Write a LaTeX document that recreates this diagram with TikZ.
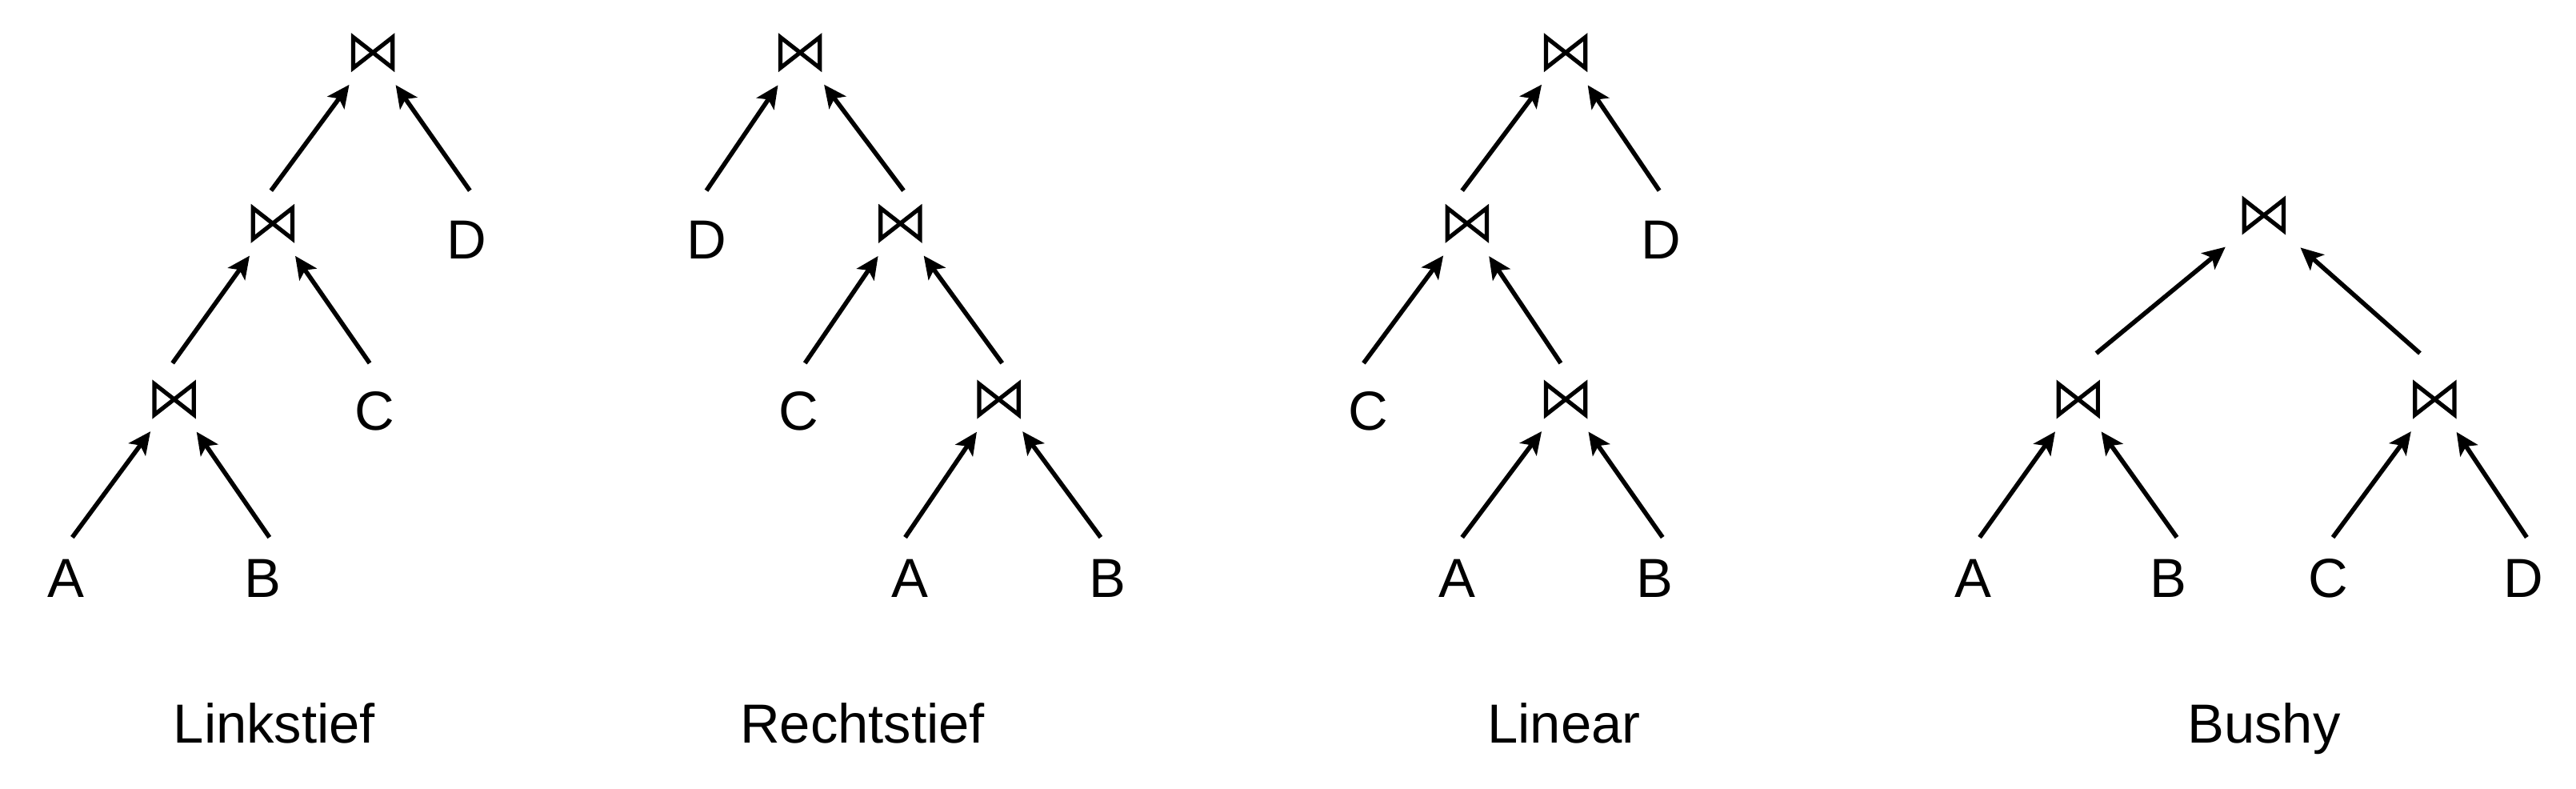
\documentclass[tikz,border=0pt]{standalone}
\usepackage{fontspec}
\setmainfont{Liberation Sans}
\usetikzlibrary{arrows.meta,calc}
\begin{document}
\begin{tikzpicture}[x=0.5134pt,y=-0.5134pt,
  lbl/.style={font=\fontsize{17.2pt}{20pt}\selectfont, inner sep=0pt, outer sep=0pt},
  captxt/.style={font=\fontsize{17.2pt}{20pt}\selectfont, inner sep=0pt, outer sep=0pt, anchor=base},
  joinnode/.style={minimum width=12.3pt, minimum height=9.6pt, inner sep=0pt, outer sep=0pt},
  bt/.style={line width=1.3pt, line join=miter},
  arr/.style={line width=1.4pt, -{Stealth[length=7pt,width=6.5pt,inset=1.6pt]}, shorten >=6.5pt},
  arrw/.style={arr, shorten >=8pt}]
\useasboundingbox (0,0) rectangle (1568,480);

% ---------- Tree 1: Linkstief ----------
\node[joinnode] (t1) at (227,32) {};
\node[joinnode] (m1) at (166,136) {};
\node[joinnode] (b1) at (106,243) {};
\node[lbl] (D1) at (284,146) {D};
\node[lbl] (C1) at (228,250) {C};
\node[lbl] (A1) at (40,352) {A};
\node[lbl] (B1) at (160,352) {B};
\node[captxt] (L1) at (167,452) {Linkstief};
\draw[arr] ($(m1)+(-1,-20)$) -- (t1);
\draw[arr] ($(D1)+(2,-30)$) -- (t1);
\draw[arr] ($(b1)+(-1,-22)$) -- (m1);
\draw[arr] ($(C1)+(-3,-29)$) -- (m1);
\draw[arr] ($(A1)+(4,-25)$) -- (b1);
\draw[arr] ($(B1)+(4,-25)$) -- (b1);

% ---------- Tree 2: Rechtstief ----------
\node[joinnode] (t2) at (487,32) {};
\node[joinnode] (m2) at (548,136) {};
\node[joinnode] (b2) at (608,243) {};
\node[lbl] (D2) at (430,146) {D};
\node[lbl] (C2) at (486,250) {C};
\node[lbl] (A2) at (554,352) {A};
\node[lbl] (B2) at (674,352) {B};
\node[captxt] (L2) at (525,452) {Rechtstief};
\draw[arr] ($(D2)+(0,-30)$) -- (t2);
\draw[arr] ($(m2)+(2,-20)$) -- (t2);
\draw[arr] ($(C2)+(4,-29)$) -- (m2);
\draw[arr] ($(b2)+(2,-22)$) -- (m2);
\draw[arr] ($(A2)+(-3,-25)$) -- (b2);
\draw[arr] ($(B2)+(-4,-25)$) -- (b2);

% ---------- Tree 3: Linear ----------
\node[joinnode] (t3) at (953,32) {};
\node[joinnode] (m3) at (893,136) {};
\node[joinnode] (b3) at (953,243) {};
\node[lbl] (D3) at (1011,146) {D};
\node[lbl] (C3) at (833,250) {C};
\node[lbl] (A3) at (887,352) {A};
\node[lbl] (B3) at (1007,352) {B};
\node[captxt] (L3) at (952,452) {Linear};
\draw[arr] ($(m3)+(-3,-20)$) -- (t3);
\draw[arr] ($(D3)+(-1,-30)$) -- (t3);
\draw[arr] ($(C3)+(-3,-29)$) -- (m3);
\draw[arr] ($(b3)+(-3,-22)$) -- (m3);
\draw[arr] ($(A3)+(3,-25)$) -- (b3);
\draw[arr] ($(B3)+(5,-25)$) -- (b3);

% ---------- Tree 4: Bushy ----------
\node[joinnode] (t4) at (1378,131) {};
\node[joinnode] (l4) at (1265,243) {};
\node[joinnode] (r4) at (1482,243) {};
\node[lbl] (A4) at (1201,352) {A};
\node[lbl] (B4) at (1320,352) {B};
\node[lbl] (C4) at (1417,352) {C};
\node[lbl] (D4) at (1536,352) {D};
\node[captxt] (L4) at (1378,452) {Bushy};
\draw[arrw] ($(l4)+(11,-28)$) -- (t4);
\draw[arrw] ($(r4)+(-9,-28)$) -- (t4);
\draw[arr] ($(A4)+(4,-25)$) -- (l4);
\draw[arr] ($(B4)+(5,-25)$) -- (l4);
\draw[arr] ($(C4)+(3,-25)$) -- (r4);
\draw[arr] ($(D4)+(2,-25)$) -- (r4);

% bowtie symbols
\foreach \n in {t1,m1,b1,t2,m2,b2,t3,m3,b3,t4,l4,r4}
  \draw[bt] (\n.north west) -- (\n.south east) -- (\n.north east) -- (\n.south west) -- cycle;
\end{tikzpicture}
\end{document}
